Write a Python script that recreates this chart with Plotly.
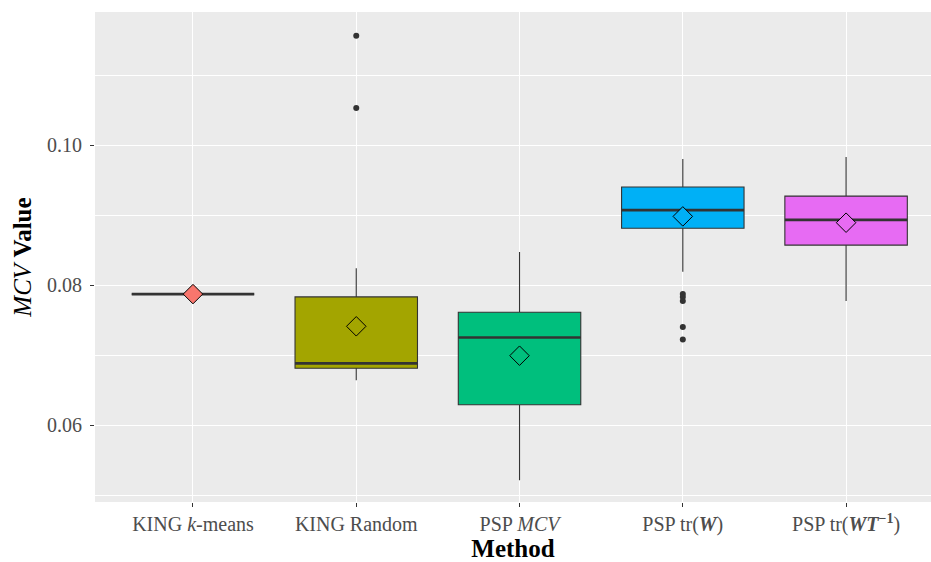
import plotly.graph_objects as go

methods = ["KING <i>k</i>-means", "KING Random", "PSP <i>MCV</i>",
           "PSP tr(<b><i>W</i></b>)", "PSP tr(<b><i>WT</i><sup>−1</sup></b>)"]
colors = ["#F8766D", "#A3A500", "#00BF7D", "#00B0F6", "#E76BF3"]
q1 = [0.0787, 0.0681, 0.0629, 0.0881, 0.0857]
median = [0.0787, 0.0688, 0.0725, 0.0907, 0.0893]
q3 = [0.0787, 0.0783, 0.0761, 0.0940, 0.0927]
lower = [0.0787, 0.0664, 0.0521, 0.0819, 0.0777]
upper = [0.0787, 0.0824, 0.0847, 0.0980, 0.0983]
means = [0.0787, 0.0741, 0.0699, 0.0898, 0.0889]
outlier_x = [1, 1, 3, 3, 3, 3, 3]
outlier_y = [0.1053, 0.1156, 0.0787, 0.0783, 0.0777, 0.0740, 0.0722]

BOXW = 0.75
fig = go.Figure()
for i in range(len(methods)):
    fig.add_trace(go.Box(
        x=[i], q1=[q1[i]], median=[median[i]], q3=[q3[i]],
        lowerfence=[lower[i]], upperfence=[upper[i]],
        width=BOXW, whiskerwidth=0, fillcolor=colors[i],
        line=dict(color="#333333", width=1.1), boxpoints=False,
        showlegend=False, hoverinfo="skip"))
    fig.add_trace(go.Scatter(
        x=[i - BOXW / 2, i + BOXW / 2], y=[median[i], median[i]],
        mode="lines", line=dict(color="#333333", width=2.6),
        showlegend=False, hoverinfo="skip"))

fig.add_trace(go.Scatter(
    x=outlier_x, y=outlier_y, mode="markers",
    marker=dict(color="#333333", size=6), showlegend=False))
fig.add_trace(go.Scatter(
    x=list(range(len(methods))), y=means, mode="markers",
    marker=dict(symbol="diamond", size=15, color=colors,
                line=dict(color="black", width=1)),
    showlegend=False))

font = "Liberation Serif"
fig.update_layout(
    width=931, height=562,
    margin=dict(l=95, r=0, t=12, b=60),
    paper_bgcolor="white", plot_bgcolor="#EBEBEB",
    font=dict(family=font, color="black"),
    xaxis=dict(
        range=[-0.6, 4.52], tickvals=list(range(len(methods))), ticktext=methods,
        showgrid=True, gridcolor="white", gridwidth=1.1, zeroline=False,
        automargin=False,
        ticks="outside", ticklen=4, tickcolor="#333333", tickwidth=1,
        tickfont=dict(family=font, size=20, color="#4D4D4D"),
        title=dict(text="<b>Method</b>", font=dict(family=font, size=25), standoff=2)),
    yaxis=dict(
        range=[0.049, 0.119], tick0=0.06, dtick=0.02, tickformat=".2f",
        showgrid=True, gridcolor="white", gridwidth=1.1, zeroline=False,
        automargin=False, ticklabelstandoff=4,
        ticks="outside", ticklen=4, tickcolor="#333333", tickwidth=1,
        tickfont=dict(family=font, size=20, color="#4D4D4D"),
        minor=dict(tick0=0.05, dtick=0.02, showgrid=True, gridcolor="white", gridwidth=0.55),
        title=dict(text="<i>MCV</i> <b>Value</b>", font=dict(family=font, size=25), standoff=8)),
)
fig.write_html("out.html", config={"displayModeBar": False},
               post_script="document.body.style.margin='0px';document.body.style.overflow='hidden';")
